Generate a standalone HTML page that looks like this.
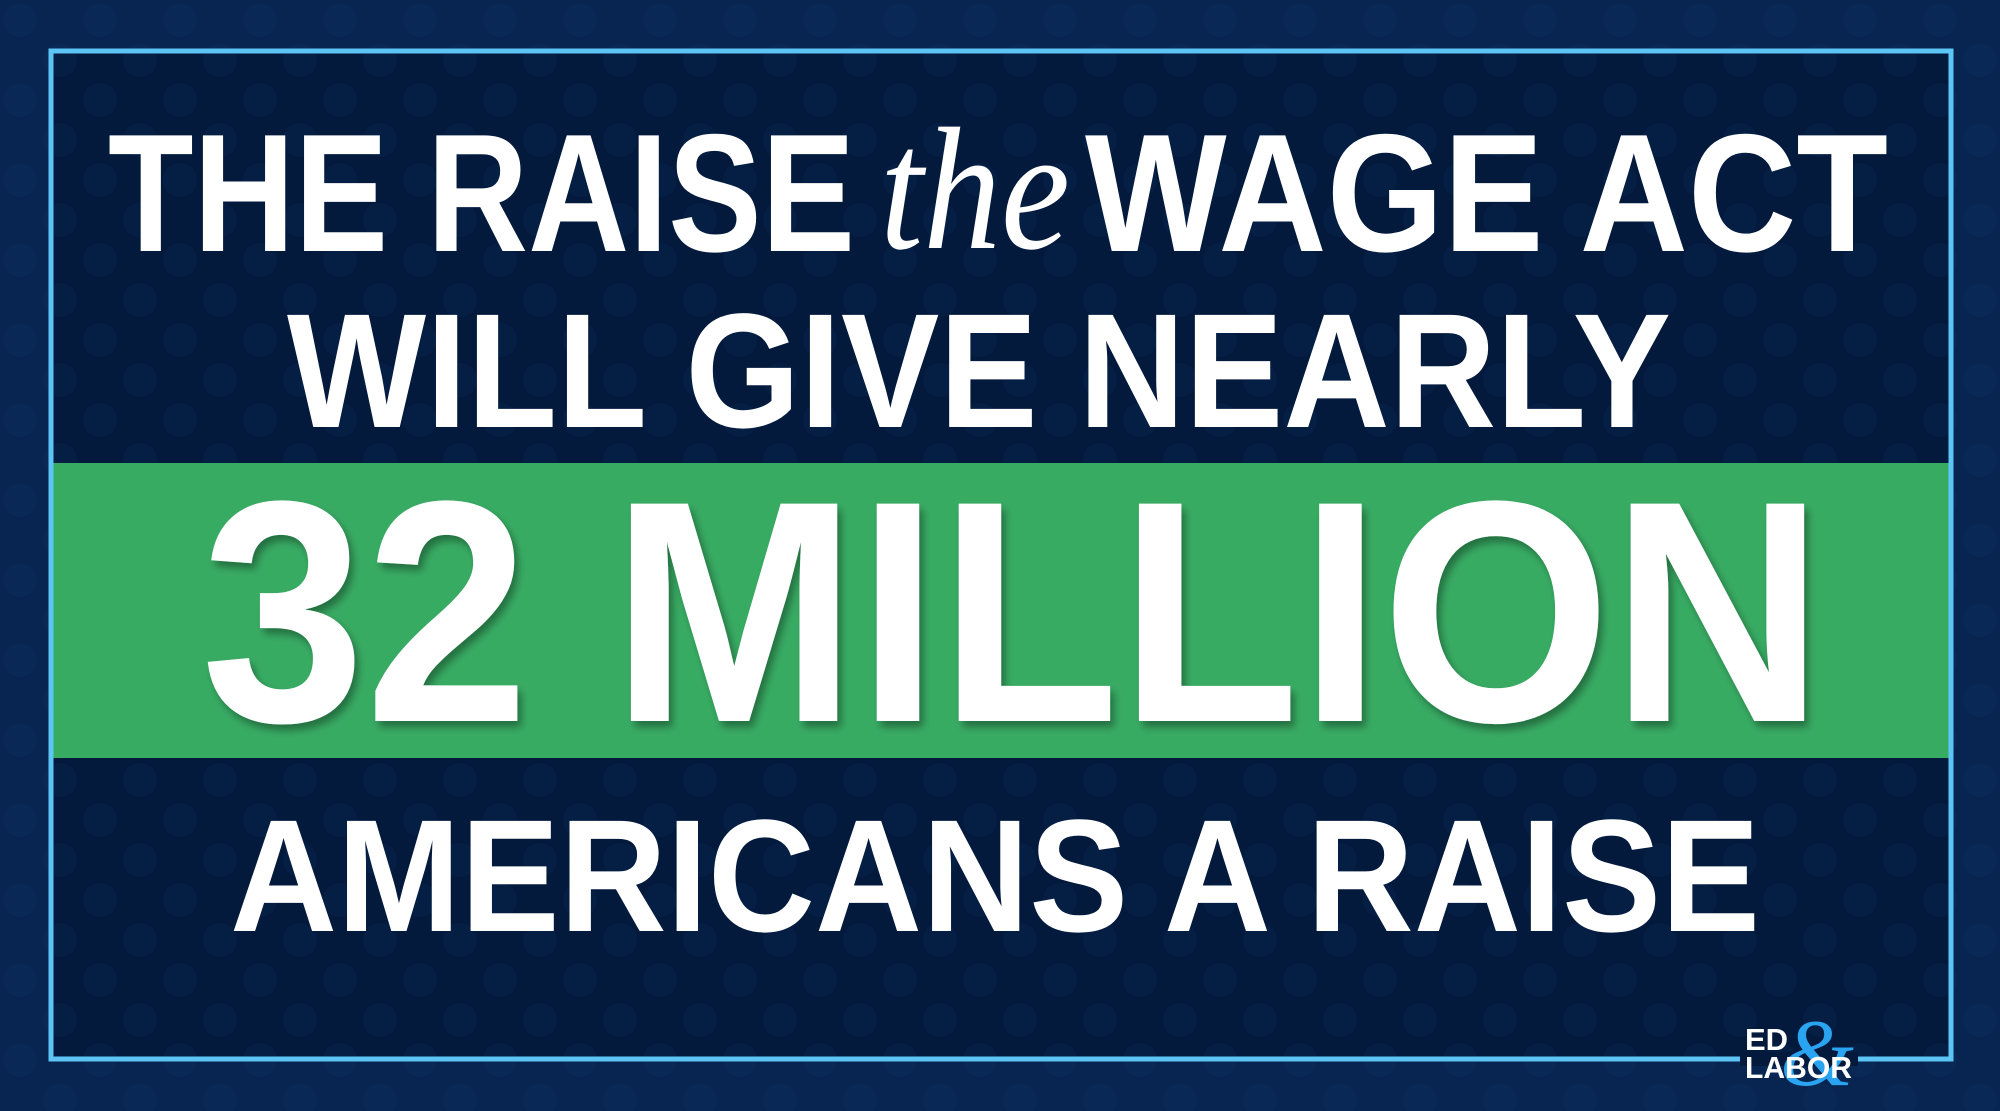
<!DOCTYPE html>
<html><head><meta charset="utf-8"><style>
html,body{margin:0;padding:0;background:#06224a;}
svg{display:block}
</style></head><body>
<svg width="2000" height="1111" viewBox="0 0 2000 1111" xmlns="http://www.w3.org/2000/svg">
<defs>
<pattern id="dots" width="80" height="80" patternUnits="userSpaceOnUse">
<circle cx="20" cy="20" r="17" fill="#0b2c5a"/><circle cx="60" cy="60" r="17" fill="#0b2c5a"/>
</pattern>
<filter id="sh" x="-5%" y="-5%" width="110%" height="115%"><feDropShadow dx="4" dy="6" stdDeviation="4" flood-color="#000" flood-opacity="0.35"/></filter>
</defs>
<rect width="2000" height="1111" fill="#072550"/>
<rect width="2000" height="1111" fill="url(#dots)" opacity="0.5"/>
<rect x="52" y="52" width="1898" height="1006" fill="#041a3d"/>
<rect x="52" y="52" width="1898" height="1006" fill="url(#dots)" opacity="0.2"/>
<rect x="51" y="463" width="1900" height="295" fill="#38ab63"/>
<rect x="51" y="51" width="1900" height="1008" fill="none" stroke="#5cc5f5" stroke-width="5"/>
<g fill="#ffffff" font-family="'Liberation Sans',sans-serif" font-weight="bold">
<text x="108" y="251" font-size="168" textLength="747" lengthAdjust="spacingAndGlyphs">THE RAISE</text>
<text x="880" y="248" font-size="175" font-family="'Liberation Serif',serif" font-style="italic" font-weight="normal" textLength="190" lengthAdjust="spacingAndGlyphs">the</text>
<text x="1085" y="251" font-size="168" textLength="803" lengthAdjust="spacingAndGlyphs">WAGE ACT</text>
<text x="287" y="427" font-size="163" textLength="1384" lengthAdjust="spacingAndGlyphs">WILL GIVE NEARLY</text>
<text x="201" y="721" font-size="316" textLength="1623" lengthAdjust="spacingAndGlyphs" filter="url(#sh)">32 MILLION</text>
<text x="230" y="931" font-size="160" textLength="1530" lengthAdjust="spacingAndGlyphs">AMERICANS A RAISE</text>
</g>
<g>
<rect x="1740" y="1052" width="118" height="14" fill="#041a3d"/>
<text x="1780" y="1085" font-family="'Liberation Serif',serif" font-style="italic" font-size="95" fill="#2aa3f0">&amp;</text>
<text x="1745" y="1050" font-family="'Liberation Sans',sans-serif" font-weight="bold" font-size="31" fill="#fff">ED</text>
<text x="1745" y="1078" font-family="'Liberation Sans',sans-serif" font-weight="bold" font-size="31" fill="#fff" textLength="107" lengthAdjust="spacingAndGlyphs">LABOR</text>
</g>
</svg>
</body></html>
